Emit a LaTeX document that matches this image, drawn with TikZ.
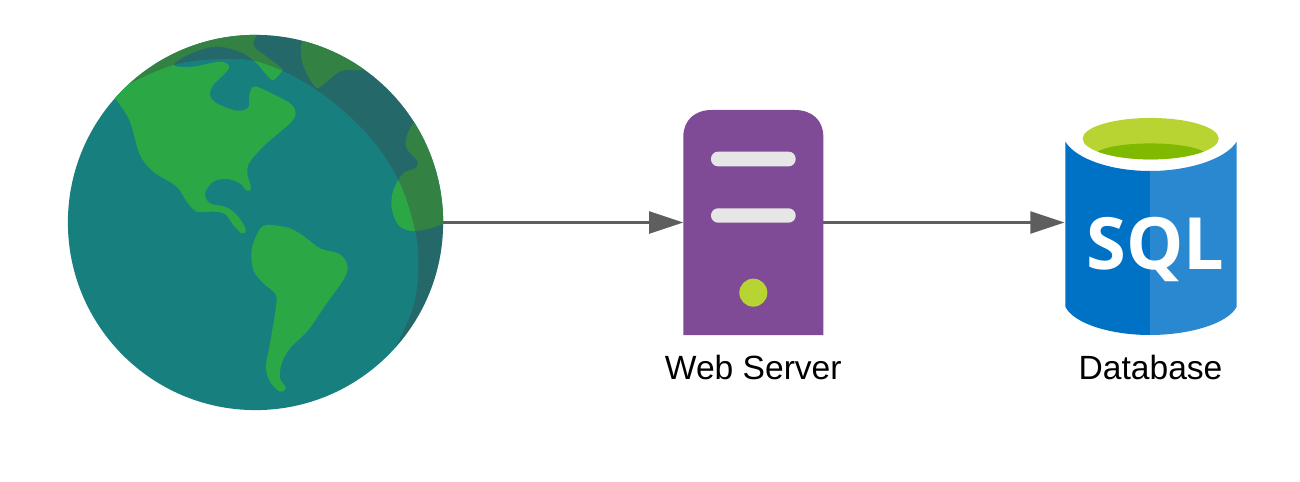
\documentclass[tikz,border=0pt]{standalone}
\usepackage{fontspec}
\setmainfont{Liberation Sans}
\newfontfamily\sqlfont{Open Sans}
\usetikzlibrary{arrows.meta,positioning}
\definecolor{sea}{HTML}{17807F}
\definecolor{land}{HTML}{2BA745}
\definecolor{shade}{RGB}{68,57,66}
\definecolor{serverpurple}{HTML}{7F4A96}
\definecolor{barwhite}{HTML}{E6E6E6}
\definecolor{lime}{HTML}{B8D432}
\definecolor{darklime}{HTML}{7FBA00}
\definecolor{dbleft}{HTML}{0072C6}
\definecolor{dbright}{HTML}{2A88D0}
\definecolor{linegray}{HTML}{5E5E5E}
\tikzset{
    earth/.style={circle,fill=sea,minimum size=3.75cm,inner sep=0pt,outer sep=0pt},
    box/.style={inner sep=0pt,outer sep=0pt,minimum height=2.25cm},
    caption/.style={inner sep=0pt,text height=0.24cm,text depth=0pt,font=\fontsize{9.55}{11}\selectfont},
    link/.style={-{Triangle[length=0.34cm,width=0.22cm]},line width=0.02cm,linegray},
    continent/.style={fill=land},
    crescent/.style={fill=shade,opacity=0.33},
    slot/.style={fill=barwhite,rounded corners=0.07cm},
}

\begin{document}
\begin{tikzpicture}[x=0.01cm,y=-0.01cm]
    \useasboundingbox (0,0) rectangle (1300,482);
    \node[earth] (globe) at (255.5,222.5) {};
    \node[box,minimum width=1.4cm,right=2.4cm of globe] (server) {};
    \node[box,minimum width=1.72cm,right=2.41cm of server] (db) {};
    \node[caption,below=0.2cm of server] (serverlabel) {Web Server};
    \node[caption,below=0.2cm of db] (dblabel) {Database};
    \begin{scope}[shift={(50,20)},x=0.01cm/3,y=-0.01cm/3]
        \clip (globe.center) circle[radius=1.875cm];
        \fill[continent] plot[smooth cycle,tension=0.55] coordinates {
            (150,190) (330,60) (610,10) (610,75) (650,110) (695,145) (695,155) (670,180)
            (650,165) (620,130) (580,100) (510,80) (450,90) (385,120) (375,138) (430,140)
            (510,125) (538,140) (520,165) (490,195) (480,225) (500,250) (560,272) (595,262)
            (598,225) (610,200) (640,208) (720,250) (737,280) (720,310) (650,370) (600,425)
            (592,460) (603,505) (590,512) (570,490) (530,477) (490,485) (465,520) (480,550)
            (530,562) (565,590) (588,630) (575,640) (550,615) (525,582) (490,575) (440,575)
            (410,545) (380,500) (310,455) (270,405) (245,320) (230,285) (195,235)};
        \fill[continent] plot[smooth cycle,tension=0.55] coordinates {
            (650,615) (720,625) (770,655) (810,685) (870,703) (893,740) (880,780) (830,850)
            (775,930) (720,985) (695,1030) (690,1075) (708,1103) (690,1115) (660,1085)
            (648,1040) (660,970) (675,880) (678,825) (640,790) (610,750) (605,690) (625,635)};
        \fill[continent] plot[smooth cycle,tension=0.55] coordinates {
            (1095,305) (1070,350) (1070,385) (1103,425) (1095,445) (1060,460) (1030,510)
            (1025,565) (1045,615) (1085,633) (1140,625) (1190,605) (1250,560) (1250,350) (1150,280)};
        \fill[continent] plot[smooth cycle,tension=0.55] coordinates {
            (770,50) (753,100) (765,150) (795,200) (815,198) (860,160) (890,150) (940,148)
            (1000,110) (900,40)};
        \fill[crescent] plot[smooth,tension=0.6] coordinates {
            (240,190) (370,135) (510,117) (640,130) (800,210) (950,340) (1045,480) (1095,630)
            (1105,740) (1090,860) (1035,985)}
            -- (1100,1050) -- (1300,1050) -- (1300,-50) -- (150,-50) -- (150,100) -- cycle;
    \end{scope}
    \begin{scope}[shift={(630,100)},x=0.01cm/3,y=-0.01cm/3]
        \fill[serverpurple] (160,705) -- (160,110) .. controls (160,60) and (195,30) .. (245,30)
            -- (495,30) .. controls (545,30) and (580,60) .. (580,110) -- (580,705) -- cycle;
        \fill[slot] (243,155) rectangle (497,199);
        \fill[slot] (243,325) rectangle (497,368);
        \fill[lime] (370,578) circle[radius=0.14cm];
    \end{scope}
    \begin{scope}[shift={(1040,100)},x=0.01cm/3,y=-0.01cm/3]
        \fill[dbleft] (330,213) .. controls (220,213) and (110,180) .. (76,125) -- (76,620)
            .. controls (100,670) and (210,705) .. (330,705) -- cycle;
        \fill[dbright] (330,213) .. controls (440,213) and (555,180) .. (590,125) -- (590,620)
            .. controls (565,670) and (450,705) .. (330,705) -- cycle;
        \fill[lime] (332,116) ellipse[x radius=0.68cm,y radius=0.207cm];
        \begin{scope}
            \clip (332,116) ellipse[x radius=0.68cm,y radius=0.207cm];
            \fill[darklime] (172,155) .. controls (230,122) and (430,122) .. (492,155) -- (492,200) -- (172,200) -- cycle;
        \end{scope}
        \node[anchor=base,inner sep=0pt,text=white,font=\fontsize{20.5}{21}\sqlfont\bfseries] (sql) at (347,508) {SQL};
    \end{scope}
    \draw[link] (globe.east) -- (server.west);
    \draw[link] (server.east) -- (db.west);
\end{tikzpicture}
\end{document}
